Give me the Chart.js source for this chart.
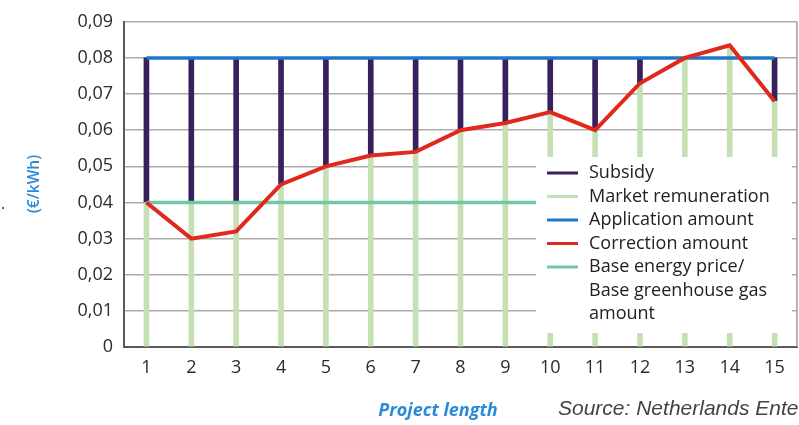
<!DOCTYPE html>
<html>
<head>
<meta charset="utf-8">
<script src="https://cdn.jsdelivr.net/npm/chart.js@4"></script>
<style>
  html, body { margin: 0; padding: 0; background: #fff; }
</style>
</head>
<body>
<canvas id="line-chart" width="799" height="425"></canvas>
<script>
// project years on the x axis
const projectYears = ['1', '2', '3', '4', '5', '6', '7', '8', '9', '10', '11', '12', '13', '14', '15'];

// values in euro per kWh
const correctionAmount = [0.040, 0.030, 0.032, 0.045, 0.050, 0.053, 0.054, 0.060, 0.062, 0.065, 0.060, 0.073, 0.080, 0.0835, 0.068];
const marketRemuneration = [0.040, 0.040, 0.040, 0.045, 0.050, 0.053, 0.054, 0.060, 0.062, 0.065, 0.060, 0.073, 0.080, 0.0835, 0.068];
const subsidy = [0.040, 0.040, 0.040, 0.035, 0.030, 0.027, 0.026, 0.020, 0.018, 0.015, 0.020, 0.007, 0, 0, 0.012];
const applicationAmount = [0.08, 0.08, 0.08, 0.08, 0.08, 0.08, 0.08, 0.08, 0.08, 0.08, 0.08, 0.08, 0.08, 0.08, 0.08];
const baseEnergyPrice = [0.04, 0.04, 0.04, 0.04, 0.04, 0.04, 0.04, 0.04, 0.04, 0.04, 0.04, 0.04, 0.04, 0.04, 0.04];

const yAxisTitle = '(€/kWh)';
const xAxisTitle = 'Project length';
const sourceText = 'Source: Netherlands Enterprise Agency';

const tickFont = { family: 'Open Sans', size: 18 };
const tickColor = '#2b2b2b';
const titleBlue = '#2a8ad8';

// legend box and titles drawn over the plot, like the original figure
const overlay = {
    id: 'overlay',
    beforeDatasetsDraw(chart) {
        const ctx = chart.ctx, a = chart.chartArea;
        ctx.save();
        ctx.strokeStyle = '#9a9a9a';
        ctx.lineWidth = 1.5;
        ctx.beginPath();
        ctx.moveTo(a.right, a.top);
        ctx.lineTo(a.right, a.bottom);
        ctx.stroke();
        ctx.restore();
    },
    afterDraw(chart) {
        const ctx = chart.ctx;
        ctx.save();
        ctx.fillStyle = '#fff';
        ctx.fillRect(536, 157, 256, 176);

        ctx.font = '18px "Open Sans"';
        ctx.textBaseline = 'middle';
        let y = 173;
        chart.data.datasets.forEach(ds => {
            const color = ds.type === 'line' ? ds.borderColor : ds.backgroundColor;
            ctx.strokeStyle = color;
            ctx.lineWidth = 3;
            ctx.beginPath();
            ctx.moveTo(547, y);
            ctx.lineTo(578, y);
            ctx.stroke();
            ctx.fillStyle = '#222';
            ds.label.split('\n').forEach(line => {
                ctx.fillText(line, 589, y);
                y += 23.5;
            });
        });

        // axis titles and source line
        ctx.fillStyle = titleBlue;
        ctx.font = 'italic bold 18px "Open Sans"';
        ctx.textAlign = 'center';
        ctx.fillText(xAxisTitle, 438, 411);

        ctx.fillStyle = '#444';
        ctx.font = 'italic 21px "Liberation Sans"';
        ctx.textAlign = 'left';
        ctx.fillText(sourceText, 558, 409);

        ctx.fillStyle = '#333';
        ctx.font = '16px "Open Sans"';
        ctx.fillText('.', 1, 204);

        ctx.translate(35, 184);
        ctx.rotate(-Math.PI / 2);
        ctx.fillStyle = titleBlue;
        ctx.font = '600 15.5px "Open Sans"';
        ctx.textAlign = 'center';
        ctx.fillText(yAxisTitle, 0, 0);
        ctx.restore();
    }
};

new Chart(document.getElementById('line-chart'), {
    type: 'bar',
    data: {
        labels: projectYears,
        datasets: [{
            label: 'Subsidy',
            data: subsidy,
            backgroundColor: '#38205c',
            stack: 'funding',
            barThickness: 5,
            order: 5
        }, {
            label: 'Market remuneration',
            data: marketRemuneration,
            backgroundColor: '#c6e0b5',
            stack: 'funding',
            barThickness: 5,
            order: 4
        }, {
            type: 'line',
            label: 'Application amount',
            data: applicationAmount,
            borderColor: '#1f77c9',
            borderWidth: 3.5,
            pointRadius: 0,
            fill: false,
            order: 2
        }, {
            type: 'line',
            label: 'Correction amount',
            data: correctionAmount,
            borderColor: '#e0281c',
            borderWidth: 4,
            pointRadius: 0,
            tension: 0,
            fill: false,
            order: 1
        }, {
            type: 'line',
            label: 'Base energy price/\nBase greenhouse gas\namount',
            data: baseEnergyPrice,
            borderColor: '#72c8a6',
            borderWidth: 3.5,
            pointRadius: 0,
            fill: false,
            order: 3
        }]
    },
    options: {
        responsive: false,
        animation: false,
        layout: { padding: { top: 20, right: 2, left: 0, bottom: 0 } },
        plugins: {
            legend: { display: false },
            tooltip: { enabled: false }
        },
        scales: {
            x: {
                stacked: true,
                grid: { display: false, drawTicks: false },
                border: { color: '#5a5a5a', width: 2 },
                ticks: { font: tickFont, color: tickColor, padding: 10, maxRotation: 0 },
                afterFit(scale) { scale.height = 78; }
            },
            y: {
                min: 0,
                max: 0.09,
                grid: { color: '#ababab', lineWidth: 1.5, drawTicks: false },
                border: { color: '#5a5a5a', width: 2 },
                ticks: {
                    stepSize: 0.01,
                    font: tickFont,
                    color: tickColor,
                    padding: 11,
                    callback: v => v === 0 ? '0' : v.toFixed(2).replace('.', ',')
                },
                afterFit(scale) { scale.width = 124; }
            }
        }
    },
    plugins: [overlay]
});
</script>
</body>
</html>
